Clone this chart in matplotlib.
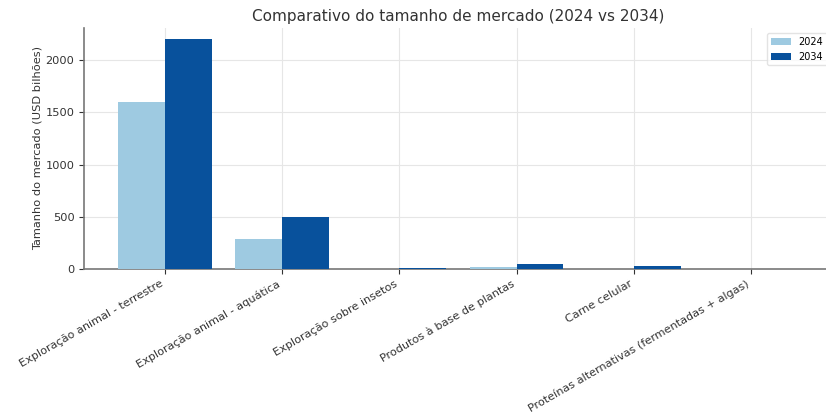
import numpy as np
import matplotlib
matplotlib.use('Agg')
import matplotlib.pyplot as plt

categories = ['Exploração animal - terrestre', 'Exploração animal - aquática',
              'Exploração sobre insetos', 'Produtos à base de plantas',
              'Carne celular', 'Proteínas alternativas (fermentadas + algas)']
values_2024 = [1600, 290, 1, 22, 1, 0.5]
values_2034 = [2200, 500, 9, 52, 33, 1.5]

color_2024 = '#9ecae1'
color_2034 = '#08519c'

fig = plt.figure(figsize=(8.26, 4.17), dpi=100)
ax = fig.add_axes([0.102, 0.355, 0.905, 0.578])

x = np.arange(len(categories))
w = 0.4
ax.bar(x - w/2, values_2024, w, color=color_2024, label='2024', zorder=3)
ax.bar(x + w/2, values_2034, w, color=color_2034, label='2034', zorder=3)

ax.set_title('Comparativo do tamanho de mercado (2024 vs 2034)', fontsize=11, color='#333333', pad=5)
ax.set_ylabel('Tamanho do mercado (USD bilhões)', fontsize=8.2, color='#333333', labelpad=2)
ax.set_xticks(x)
ax.set_xticklabels(categories, rotation=30, ha='right', fontsize=8.1, color='#333333')
ax.tick_params(axis='y', labelsize=8.2, colors='#333333')
ax.tick_params(axis='x', colors='#333333')
ax.grid(True, color='#e6e6e6', linewidth=0.8, zorder=0)

for s in ['top', 'right']:
    ax.spines[s].set_visible(False)
for s in ['left', 'bottom']:
    ax.spines[s].set_color('#777777')
    ax.spines[s].set_linewidth(1.2)

leg = ax.legend(loc='upper right', fontsize=7, frameon=True)
leg.get_frame().set_edgecolor('#dddddd')

fig.savefig('out.png', dpi=100)
